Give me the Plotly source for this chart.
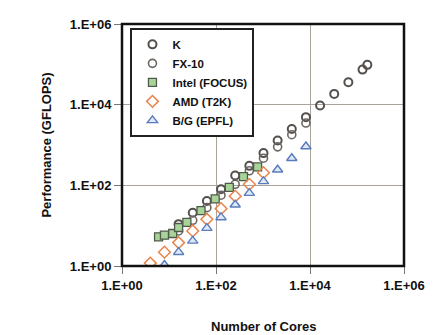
import plotly.graph_objects as go

# ---- data ----
k_cores = [16, 32, 64, 128, 256, 512, 1024, 2048, 4096, 8192, 16384, 32768, 65536, 131072, 165888]
k_perf = [10.9, 21, 41, 80, 175, 304, 630, 1290, 2500, 4900, 9500, 18500, 36000, 74000, 97000]

fx_cores = [16, 32, 64, 128, 256, 512, 1024, 2048, 4096, 8192]
fx_perf = [7.4, 13.6, 28, 57, 106, 230, 470, 900, 1800, 3500]

intel_cores = [6, 8, 12, 16, 24, 48, 96, 192, 384, 768]
intel_perf = [5.3, 5.8, 6.4, 9.0, 12.1, 23.6, 46, 89, 165, 286]

amd_cores = [4, 8, 16, 32, 64, 128, 256, 512, 1024]
amd_perf = [1.18, 2.2, 3.8, 7.4, 14.4, 26.4, 54, 106, 206]

bg_cores = [8, 16, 32, 64, 128, 256, 512, 1024, 2048, 4096, 8192]
bg_perf = [1.06, 2.2, 4.2, 8.7, 16, 33, 64, 125, 244, 470, 920]

tick_vals = [1, 100, 10000, 1000000]
tick_text = ["1.E+00", "1.E+02", "1.E+04", "1.E+06"]

FONT = "Liberation Sans, Arial, sans-serif"

fig = go.Figure()
fig.add_trace(go.Scatter(x=k_cores, y=k_perf, mode="markers", name="K",
                         marker=dict(symbol="circle-open", size=8, color="#55504c",
                                     line=dict(width=2, color="#55504c"))))
fig.add_trace(go.Scatter(x=fx_cores, y=fx_perf, mode="markers", name="FX-10",
                         marker=dict(symbol="circle-open", size=8, color="#6a6560",
                                     line=dict(width=1.6, color="#6a6560"))))
fig.add_trace(go.Scatter(x=intel_cores, y=intel_perf, mode="markers", name="Intel (FOCUS)",
                         marker=dict(symbol="square", size=8, color="#a8d49a",
                                     line=dict(width=1.3, color="#4f5a4a"))))
fig.add_trace(go.Scatter(x=amd_cores, y=amd_perf, mode="markers", name="AMD (T2K)",
                         marker=dict(symbol="diamond-open", size=9, color="#e8844c",
                                     line=dict(width=1.5, color="#e8844c"))))
fig.add_trace(go.Scatter(x=bg_cores, y=bg_perf, mode="markers", name="B/G (EPFL)",
                         marker=dict(symbol="triangle-up", size=9, color="#dfe8f7",
                                     line=dict(width=1.4, color="#5b7cbc"))))

axis_common = dict(type="log", range=[0, 6], tickvals=tick_vals, ticktext=tick_text,
                   showgrid=True, gridcolor="#aaa39c", gridwidth=1,
                   ticks="outside", ticklen=7, tickcolor="#777",
                   showline=False, zeroline=False,
                   tickfont=dict(family=FONT, size=13, color="#111", weight="bold"))

fig.update_xaxes(**axis_common)
fig.update_yaxes(**axis_common)

# plot frame
fig.add_shape(type="rect", xref="paper", yref="paper", x0=0, y0=0, x1=1, y1=1,
              line=dict(color="#111", width=2.5), layer="above")

# page body has an 8px margin, so the figure is sized to fit the 434x335 window
fig.update_layout(
    width=426, height=327,
    margin=dict(l=114, r=21, t=9, b=69),
    paper_bgcolor="white", plot_bgcolor="white",
    font=dict(family=FONT, size=12, color="#111"),
    showlegend=True,
    legend=dict(x=0.03, y=0.984, xanchor="left", yanchor="top",
                bgcolor="white", bordercolor="#222", borderwidth=2,
                font=dict(family=FONT, size=11.5, color="#111", weight="bold"),
                tracegroupgap=0, itemwidth=30),
    annotations=[
        dict(text="<b>Number of Cores</b>", xref="paper", yref="paper",
             x=0.5, y=-0.249, xanchor="center", yanchor="middle", showarrow=False,
             font=dict(family=FONT, size=13, color="#111")),
        dict(text="<b>Performance (GFLOPS)</b>", xref="paper", yref="paper",
             x=-0.271, y=0.5, xanchor="center", yanchor="middle", showarrow=False,
             textangle=-90, font=dict(family=FONT, size=13, color="#111")),
    ],
)

fig.write_html("out.html")
